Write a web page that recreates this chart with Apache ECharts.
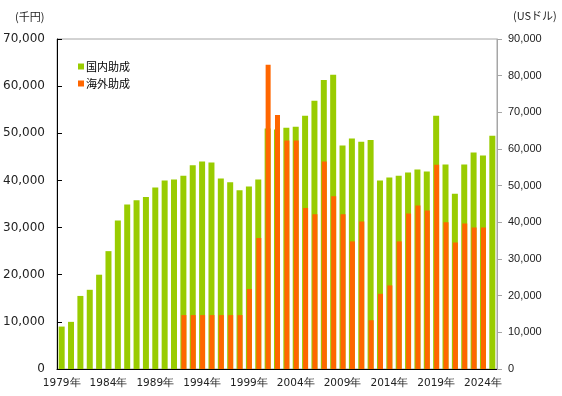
<!DOCTYPE html>
<html>
<head>
<meta charset="utf-8">
<script src="https://cdn.jsdelivr.net/npm/echarts@6/dist/echarts.min.js"></script>
<style>
  html, body { margin: 0; padding: 0; background: #fff; }
  #chart { width: 562px; height: 396px; }
</style>
</head>
<body>
<div id="chart"></div>
<script>
// 年 (1979-2025)
const years = [];
for (let y = 1979; y <= 2025; y++) years.push(y + '年');

// 国内助成 (千円)
const domestic = [
  9000, 10000, 15500, 16800, 20000, 25000, 31500, 34900, 35800, 36500,
  38500, 40000, 40200, 41000, 43200, 44000, 43800, 40400, 39600, 37900,
  38700, 40200, 51000, 50800, 51200, 51400, 53700, 56900, 61300, 62400,
  47400, 48900, 48200, 48600, 40000, 40600, 41000, 41700, 42300, 41900,
  53700, 43400, 37200, 43400, 45900, 45300, 49500
];

// 海外助成 (USドル)
const overseas = [
  null, null, null, null, null, null, null, null, null, null,
  null, null, null, 14700, 14700, 14700, 14700, 14700, 14700, 14700,
  21800, 35700, 83000, 69300, 62300, 62300, 43900, 42200, 56600, 47100,
  42200, 34800, 40200, 13300, 20500, 22800, 34800, 42400, 44600, 43200,
  55700, 40000, 34500, 39700, 38600, 38600, null
];

const fmt = v => v.toLocaleString('en-US');

const chart = echarts.init(document.getElementById('chart'));

chart.setOption({
  animation: false,
  grid: {
    left: 55, right: 65, top: 39, bottom: 27,
    show: true, borderColor: '#a6a6a6', borderWidth: 1
  },
  graphic: [
    { type: 'text', left: 15, top: 11,
      style: { text: '(千円)', font: '11px "Noto Sans CJK JP"', fill: '#222' } },
    { type: 'text', left: 513, top: 10,
      style: { text: '(USドル)', font: '11px "Noto Sans CJK JP"', fill: '#222' } }
  ],
  legend: {
    orient: 'vertical',
    left: 73, top: 56,
    itemWidth: 6, itemHeight: 6, itemGap: 6,
    icon: 'rect',
    textStyle: { fontSize: 11, fontFamily: 'Noto Sans CJK JP', color: '#000', padding: [0, 0, 0, -3] },
    data: ['国内助成', '海外助成']
  },
  xAxis: {
    type: 'category',
    data: years,
    boundaryGap: true,
    axisLine: { lineStyle: { color: '#000', width: 1 } },
    axisTick: { inside: true, length: 4, interval: 0, lineStyle: { color: '#000' } },
    axisLabel: {
      interval: 4, margin: 9,
      fontSize: 10.5, fontFamily: 'DejaVu Sans', color: '#222'
    }
  },
  yAxis: [
    {
      type: 'value', min: 0, max: 70000, interval: 10000, position: 'left',
      axisLine: { show: true, lineStyle: { color: '#000' } },
      axisTick: { show: true, inside: true, length: 5, lineStyle: { color: '#000' } },
      splitLine: { show: false },
      axisLabel: { formatter: fmt, margin: 12, fontSize: 12, fontFamily: 'DejaVu Sans', color: '#222' }
    },
    {
      type: 'value', min: 0, max: 90000, interval: 10000, position: 'right',
      axisLine: { show: true, lineStyle: { color: '#a6a6a6' } },
      axisTick: { show: true, inside: false, length: 5, lineStyle: { color: '#a6a6a6' } },
      splitLine: { show: false },
      axisLabel: { formatter: fmt, margin: 11, fontSize: 11, fontFamily: 'Liberation Sans', color: '#222' }
    }
  ],
  series: [
    {
      name: '国内助成', type: 'bar', yAxisIndex: 0,
      data: domestic, barWidth: 6, barGap: '-83.3%',
      itemStyle: { color: '#99cc00' }
    },
    {
      name: '海外助成', type: 'bar', yAxisIndex: 1,
      data: overseas, barWidth: 5,
      itemStyle: { color: '#ff6600' }
    }
  ]
});
</script>
</body>
</html>
